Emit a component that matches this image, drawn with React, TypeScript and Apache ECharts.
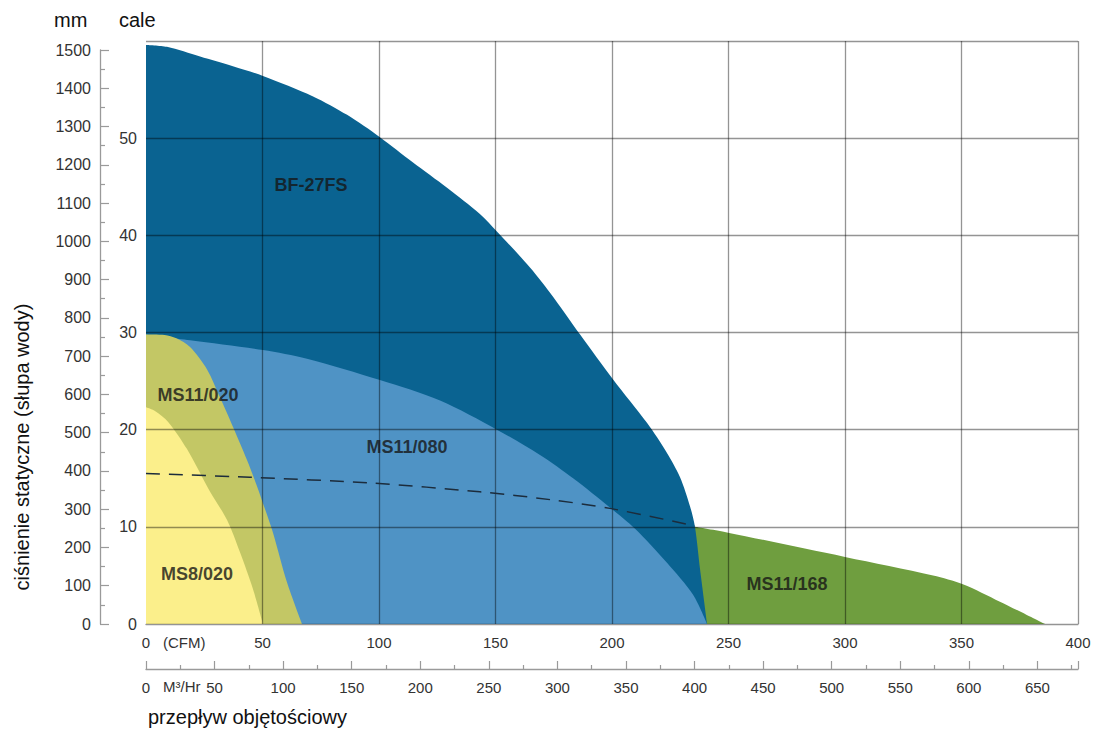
import React, { useEffect, useRef } from 'react';
import * as echarts from 'echarts';

const FONT = '"Liberation Sans", Arial, Helvetica, sans-serif';

// axis ranges
const cfmMax = 400;
const cfmStep = 50;
const inchMax = 60;
const inchStep = 10;
const mmMax = 1500;
const mmStep = 100;
const m3hMax = 679.6; // 400 CFM expressed in m3/h
const m3hStep = 50;

// curves: [CFM, inches of water]
const bf27fs: [number, number][] = [
  [0, 59.6], [9, 59.4], [23.2, 58.4], [37.3, 57.4], [50.2, 56.4], [71.7, 54.3],
  [86.3, 52.4], [100.4, 50.1], [114.6, 47.5], [129.2, 44.9], [143.3, 42.2],
  [150.6, 40.4], [164.8, 36.7], [173.4, 34.1], [186.3, 29.8], [200.4, 25.2],
  [215, 20.7], [223.6, 17.6], [229.2, 15.1], [233.5, 12.1], [235.6, 10.0],
  [237.8, 5.6], [240.8, 0],
];
const ms11_080: [number, number][] = [
  [0, 29.8], [18.9, 29.2], [50.2, 28.2], [69.1, 27.3], [100.4, 25.1],
  [126.2, 23.0], [150.6, 20.0], [169.1, 17.4], [183.3, 15.0], [199.1, 12.0],
  [209.9, 9.8], [223.6, 6.3], [234.8, 3.0], [240.8, 0],
];
const ms11_020: [number, number][] = [
  [0, 29.8], [8, 29.75], [13, 29.4], [18.9, 28.5], [26.2, 26.2], [31.8, 23.3],
  [37.3, 20.3], [43.3, 16.9], [47.6, 14.2], [51.1, 11.8], [54.5, 9.4],
  [60.5, 4.3], [67, 0],
];
const ms8_020: [number, number][] = [
  [0, 22.3], [4, 21.9], [9.5, 20.8], [17.6, 18.0], [27.5, 13.6], [34.8, 10.7],
  [40.3, 7.4], [45.9, 3.6], [50.2, 0],
];
const ms11_168: [number, number][] = [
  [235.6, 10.0], [249.8, 9.4], [300, 6.9], [337.8, 5.0], [350.6, 4.1],
  [366.5, 2.3], [385.8, 0],
];
const dashedCurve: [number, number][] = [
  [0, 15.5], [44.6, 15.1], [97.4, 14.5], [143.3, 13.6], [173.4, 12.8],
  [199.1, 11.9], [235.6, 10.1],
];

const labelNames = ['BF-27FS', 'MS11/020', 'MS11/080', 'MS8/020', 'MS11/168'];
const labelPos: [number, number][] = [
  [70.8, 45.2], [22.3, 23.6], [112.0, 18.2], [21.9, 5.1], [275.1, 4.1],
];

const colors = {
  bf: '#0a6391',
  ms080: '#4f93c5',
  ms020: '#c3c765',
  ms8: '#fbef8b',
  ms168: '#6f9e3f',
};

const gridLine = { color: 'rgba(0,0,0,0.42)', width: 1.3 };

function area(name: string, data: [number, number][], color: string) {
  return {
    name,
    type: 'line',
    xAxisIndex: 0,
    yAxisIndex: 0,
    data,
    smooth: 0.3,
    symbol: 'none',
    lineStyle: { width: 0, color },
    areaStyle: { color, opacity: 1 },
    silent: true,
    z: 2,
  };
}

export default function App() {
  const ref = useRef<HTMLDivElement>(null);
  useEffect(() => {
    if (!ref.current) return;
    const chart = echarts.init(ref.current, undefined, { renderer: 'svg' });
    const option = {
      animation: false,
      textStyle: { fontFamily: FONT },
      grid: [
        { left: 146, top: 41, width: 932, height: 583 },
        { left: 100, top: 50, width: 20, height: 574 },
        { left: 146, top: 600, width: 932, height: 69 },
      ],
      xAxis: [
        {
          gridIndex: 0, type: 'value', min: 0, max: cfmMax, interval: cfmStep, z: 5,
          axisLine: { show: true, lineStyle: gridLine },
          axisTick: { show: false },
          axisLabel: { margin: 11, fontSize: 15, color: '#333', fontFamily: FONT },
          splitLine: { show: true, showMinLine: false, lineStyle: gridLine },
        },
        { gridIndex: 1, type: 'value', show: false },
        {
          gridIndex: 2, type: 'value', min: 0, max: m3hMax, interval: m3hStep,
          axisLine: { show: true, lineStyle: { color: '#9a9a9a', width: 1.4 } },
          axisTick: { show: true, inside: true, length: 8, lineStyle: { color: '#9a9a9a', width: 1.2 } },
          minorTick: { show: true, splitNumber: 2, length: 4, lineStyle: { color: '#9a9a9a', width: 1.2 } },
          axisLabel: { margin: 11, fontSize: 15, color: '#333', fontFamily: FONT, showMaxLabel: false },
          splitLine: { show: false },
        },
      ],
      yAxis: [
        {
          gridIndex: 0, type: 'value', min: 0, max: inchMax, interval: inchStep, z: 5,
          axisLine: { show: false },
          axisTick: { show: false },
          axisLabel: { margin: 9, fontSize: 16, color: '#333', fontFamily: FONT, showMaxLabel: false },
          splitLine: { show: true, showMinLine: false, lineStyle: gridLine },
        },
        {
          gridIndex: 1, type: 'value', min: 0, max: mmMax, interval: mmStep,
          axisLine: { show: true, lineStyle: { color: '#9a9a9a', width: 1.3 } },
          axisTick: { show: true, inside: true, length: 9, lineStyle: { color: '#9a9a9a', width: 1.2 } },
          minorTick: { show: true, splitNumber: 2, length: 5, lineStyle: { color: '#9a9a9a', width: 1.2 } },
          axisLabel: {
            margin: 9, fontSize: 16, color: '#333', fontFamily: FONT,
            formatter: (v: number) => String(v),
          },
          splitLine: { show: false },
        },
        { gridIndex: 2, type: 'value', show: false },
      ],
      series: [
        area('MS11/168', ms11_168, colors.ms168),
        area('BF-27FS', bf27fs, colors.bf),
        area('MS11/080', ms11_080, colors.ms080),
        area('MS11/020', ms11_020, colors.ms020),
        area('MS8/020', ms8_020, colors.ms8),
        {
          name: 'dashed',
          type: 'line',
          xAxisIndex: 0,
          yAxisIndex: 0,
          data: dashedCurve,
          smooth: 0.3,
          symbol: 'none',
          silent: true,
          lineStyle: { color: '#1c2c3c', width: 1.5, type: [14, 9] },
          z: 6,
        },
        {
          name: 'labels',
          type: 'scatter',
          xAxisIndex: 0,
          yAxisIndex: 0,
          symbolSize: 1,
          itemStyle: { color: 'rgba(0,0,0,0)' },
          silent: true,
          z: 10,
          data: labelNames.map((n, i) => ({ name: n, value: labelPos[i] })),
          label: {
            show: true,
            position: 'inside',
            formatter: '{b}',
            fontSize: 18,
            fontWeight: 'bold',
            color: '#161616',
            fontFamily: FONT,
          },
        },
      ],
      graphic: [
        { type: 'text', x: 54, y: 20, style: { text: 'mm', fill: '#111', font: `20px ${FONT}`, align: 'left', verticalAlign: 'middle' } },
        { type: 'text', x: 119, y: 20, style: { text: 'cale', fill: '#111', font: `20px ${FONT}`, align: 'left', verticalAlign: 'middle' } },
        { type: 'text', x: 163, y: 642, style: { text: '(CFM)', fill: '#333', font: `15px ${FONT}`, align: 'left', verticalAlign: 'middle' } },
        { type: 'text', x: 163, y: 686, style: { text: 'M³/Hr', fill: '#333', font: `15px ${FONT}`, align: 'left', verticalAlign: 'middle' } },
        { type: 'text', x: 148, y: 717, style: { text: 'przepływ objętościowy', fill: '#111', font: `20px ${FONT}`, align: 'left', verticalAlign: 'middle' } },
        { type: 'text', x: 22, y: 447, rotation: Math.PI / 2, style: { text: 'ciśnienie statyczne (słupa wody)', fill: '#111', font: `20px ${FONT}`, align: 'center', verticalAlign: 'middle' } },
      ],
    };
    chart.setOption(option as any);
    return () => chart.dispose();
  }, []);
  return (
    <div
      ref={ref}
      style={{ position: 'fixed', left: 0, top: 0, width: 1097, height: 736, background: '#fff' }}
    />
  );
}
